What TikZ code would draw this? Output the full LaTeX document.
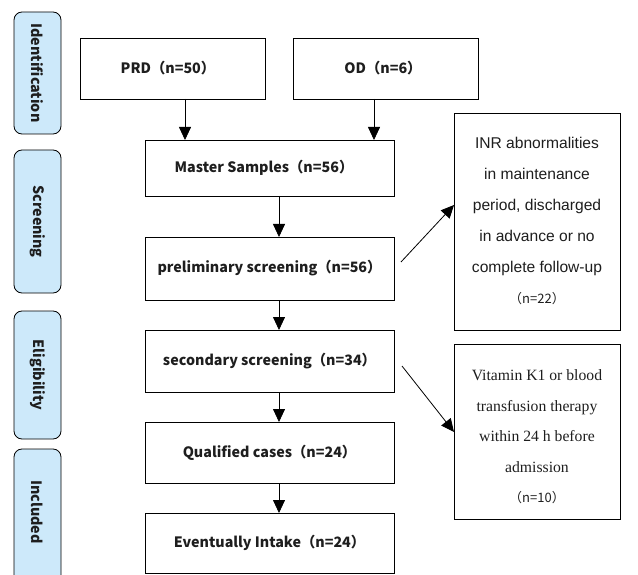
\documentclass[tikz,border=0pt]{standalone}
\usepackage{fontspec}
\newfontfamily\cjk{Noto Sans CJK SC}
\newfontfamily\arialf{Liberation Sans}
\newfontfamily\timesf{Liberation Serif}
\usetikzlibrary{arrows.meta}
\definecolor{phasefill}{HTML}{CDE9FA}
\definecolor{txt}{HTML}{1E1E1E}
\begin{document}
\begin{tikzpicture}[x=1pt,y=-1pt,
  phase/.style={draw=black,line width=0.8pt,fill=phasefill,rounded corners=8pt},
  mainbox/.style={draw=black,line width=0.8pt},
  maintxt/.style={font=\cjk\bfseries\fontsize{14.3}{16}\selectfont,text=txt},
  phasetxt/.style={font=\cjk\bfseries\fontsize{14.3}{16}\selectfont,text=txt,rotate=-90},
  arr/.style={-{Triangle[width=12pt,length=13pt]},line width=0.8pt}]
\useasboundingbox (0,0) rectangle (638,575);
% phases
\draw[phase] (14,12) rectangle (61,134);
\node[phasetxt] (pid) at (37.5,73) {Identification};
\draw[phase] (14,150) rectangle (61,293);
\node[phasetxt] (psc) at (37.5,221.5) {Screening};
\draw[phase] (14,311) rectangle (61,439);
\node[phasetxt] (pel) at (37.5,375) {Eligibility};
\draw[phase] (14,449) rectangle (61,600);
\node[phasetxt] (pin) at (37.5,512) {Included};
% main boxes
\draw[mainbox] (80,38) rectangle (265,99);
\node[maintxt] (prd) at (168,68.5) {PRD（n=50）};
\coordinate (prdb) at (185,99);
\draw[mainbox] (293,38) rectangle (478,99);
\node[maintxt] (od) at (383,68.5) {OD（n=6）};
\coordinate (odb) at (374,99);
\draw[mainbox] (145,140) rectangle (394,196);
\node[maintxt] (ms) at (264,168) {Master Samples（n=56）};
\coordinate (mst1) at (185,140);
\coordinate (mst2) at (374,140);
\coordinate (msb) at (279,196);
\draw[mainbox] (145,237) rectangle (394,300);
\node[maintxt] (pre) at (269.5,268.5) {preliminary screening（n=56）};
\coordinate (pret) at (279,237);
\coordinate (preb) at (279,300);
\coordinate (prer) at (401,262);
\draw[mainbox] (145,330) rectangle (394,392);
\node[maintxt] (sec) at (269.5,361) {secondary screening（n=34）};
\coordinate (sect) at (279,330);
\coordinate (secb) at (279,392);
\coordinate (secr) at (402,366);
\draw[mainbox] (145,422) rectangle (394,483);
\node[maintxt] (qc) at (269.5,452.5) {Qualified cases（n=24）};
\coordinate (qct) at (279,422);
\coordinate (qcb) at (279,483);
\draw[mainbox] (145,513) rectangle (394,573);
\node[maintxt] (ei) at (269.5,543) {Eventually Intake（n=24）};
\coordinate (eit) at (279,513);
% right boxes
\draw[mainbox] (454,113) rectangle (620,330);
\node[font=\arialf\fontsize{15.6}{31}\selectfont,text=txt,align=center] (ex1) at (537,221)
  {INR abnormalities\\in maintenance\\period, discharged\\in advance or no\\complete follow-up\\{\cjk\fontsize{13}{31}\selectfont（n=22）}};
\coordinate (ex1l) at (454,205);
\draw[mainbox] (454,344) rectangle (620,519);
\node[font=\timesf\fontsize{15.7}{30.5}\selectfont,text=txt,align=center] (ex2) at (537,437)
  {Vitamin K1 or blood\\transfusion therapy\\within 24 h before\\admission\\{\cjk\fontsize{13}{30.5}\selectfont（n=10）}};
\coordinate (ex2l) at (454,432);
% arrows
\draw[arr] (prdb) -- (mst1);
\draw[arr] (odb) -- (mst2);
\draw[arr] (msb) -- (pret);
\draw[arr] (preb) -- (sect);
\draw[arr] (secb) -- (qct);
\draw[arr] (qcb) -- (eit);
\draw[arr] (prer) -- (ex1l);
\draw[arr] (secr) -- (ex2l);
\end{tikzpicture}
\end{document}
